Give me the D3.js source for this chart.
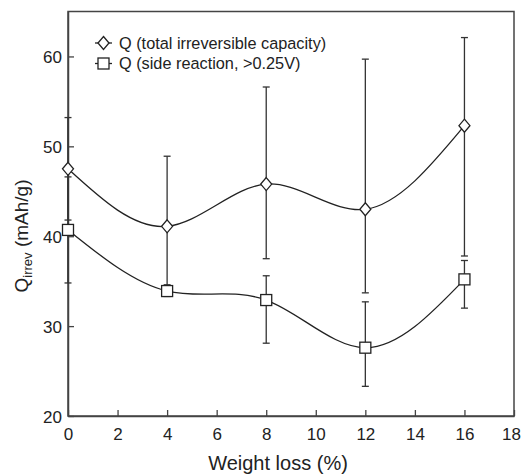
<!DOCTYPE html>
<html><head><meta charset="utf-8">
<script src="https://cdn.jsdelivr.net/npm/d3@7"></script>
<style>body{margin:0;background:#fff}svg{display:block}text{font-family:"Liberation Sans",Arial,sans-serif;fill:#222}</style>
</head><body>
<script>
const weightLoss = [0, 4, 8, 12, 16];
const totalQ   = [47.5, 41.1, 45.8, 43.0, 52.3];
const totalHi  = [53.2, 48.9, 56.6, 59.7, 62.1];
const totalLo  = [41.8, 33.4, 37.5, 33.7, 37.8];
const sideQ    = [40.7, 33.9, 32.9, 27.6, 35.2];
const sideHi   = [46.6, 34.6, 35.6, 32.7, 37.3];
const sideLo   = [34.8, 33.3, 28.1, 23.3, 32.0];
const xTicks = [0, 2, 4, 6, 8, 10, 12, 14, 16, 18];
const yTicks = [20, 30, 40, 50, 60];
const legendLabels = ["Q (total irreversible capacity)", "Q (side reaction, >0.25V)"];

const W = 522, H = 475;
const L = 68, R = 514, T = 11.5, B = 416;
const ink = "#222", axisCol = "#444";

const svg = d3.select("body").append("svg").attr("width", W).attr("height", H);
const x = d3.scaleLinear().domain([0, 18]).range([L, R]);
const y = d3.scaleLinear().domain([20, 65]).range([B, T]);

// frame
svg.append("rect").attr("x", L).attr("y", T).attr("width", R - L).attr("height", B - T)
  .attr("fill", "none").attr("stroke", axisCol).attr("stroke-width", 1.5);

// axes (ticks inward)
const xAxis = svg.append("g").attr("transform", `translate(0,${B})`)
  .call(d3.axisBottom(x).tickValues(xTicks).tickSizeInner(-6).tickSizeOuter(0).tickPadding(12).tickFormat(d3.format("d")));
const yAxis = svg.append("g").attr("transform", `translate(${L},0)`)
  .call(d3.axisLeft(y).tickValues(yTicks).tickSizeInner(-6).tickSizeOuter(0).tickPadding(6).tickFormat(d3.format("d")));
[xAxis, yAxis].forEach(g => {
  g.select(".domain").attr("stroke", axisCol).attr("stroke-width", 1.5);
  g.selectAll(".tick line").attr("stroke", axisCol).attr("stroke-width", 1.3);
  g.selectAll(".tick text").attr("font-size", 17).attr("fill", ink)
    .attr("font-family", '"Liberation Sans",Arial,sans-serif');
});
yAxis.selectAll(".tick text").attr("dy", "0.36em");
xAxis.selectAll(".tick text").filter(d => d === 18).attr("dx", -3);

// axis titles
svg.append("text").attr("x", 278).attr("y", 470).attr("text-anchor", "middle")
  .attr("font-size", 20).text("Weight loss (%)");
const yl = svg.append("text").attr("transform", `translate(28,236) rotate(-90)`)
  .attr("text-anchor", "middle").attr("font-size", 19);
yl.append("tspan").text("Q");
yl.append("tspan").attr("font-size", 13).attr("dy", 4).text("irrev");
yl.append("tspan").attr("dy", -4).text(" (mAh/g)");

const series = [
  {q: totalQ, hi: totalHi, lo: totalLo, shape: "diamond"},
  {q: sideQ, hi: sideHi, lo: sideLo, shape: "square"}
];

const line = d3.line().x((d, i) => x(weightLoss[i])).y(d => y(d)).curve(d3.curveNatural);

function marker(g, shape, cx, cy) {
  if (shape === "diamond") {
    g.append("path").attr("d", `M${cx},${cy - 6.5}L${cx + 5.5},${cy}L${cx},${cy + 6.5}L${cx - 5.5},${cy}Z`)
      .attr("fill", "#fff").attr("stroke", ink).attr("stroke-width", 1.3);
  } else {
    g.append("rect").attr("x", cx - 5.5).attr("y", cy - 5.5).attr("width", 11).attr("height", 11)
      .attr("fill", "#fff").attr("stroke", ink).attr("stroke-width", 1.3);
  }
}

// error bars
series.forEach(s => {
  const g = svg.append("g").attr("stroke", "#333").attr("stroke-width", 1.3);
  weightLoss.forEach((wx, i) => {
    const cx = x(wx);
    g.append("line").attr("x1", cx).attr("x2", cx).attr("y1", y(s.lo[i])).attr("y2", y(s.hi[i]));
    [s.lo[i], s.hi[i]].forEach(v => g.append("line").attr("x1", cx - 3.5).attr("x2", cx + 3.5).attr("y1", y(v)).attr("y2", y(v)));
  });
});

// lines
series.forEach(s => {
  svg.append("path").datum(s.q).attr("d", line).attr("fill", "none").attr("stroke", ink).attr("stroke-width", 1.3);
});

// markers
series.forEach(s => {
  const g = svg.append("g");
  s.q.forEach((v, i) => marker(g, s.shape, x(weightLoss[i]), y(v)));
});

// legend
const legY = [43, 63.5];
series.forEach((s, i) => {
  const g = svg.append("g");
  g.append("line").attr("x1", 95).attr("x2", 112).attr("y1", legY[i]).attr("y2", legY[i]).attr("stroke", ink).attr("stroke-width", 1.3);
  marker(g, s.shape, 103.5, legY[i]);
  g.append("text").attr("x", 119).attr("y", legY[i]).attr("dy", "0.36em").attr("font-size", 16.3).text(legendLabels[i]);
});
</script>
</body></html>
